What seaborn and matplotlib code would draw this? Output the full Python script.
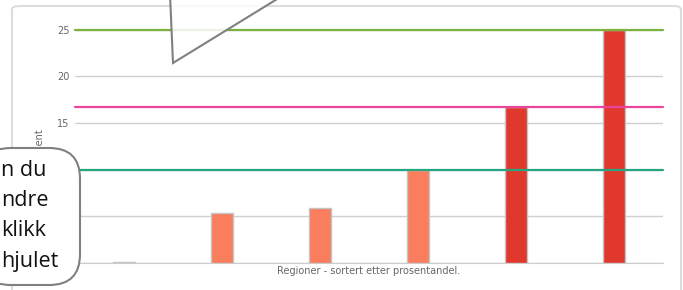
import matplotlib
matplotlib.use("Agg")
import matplotlib.pyplot as plt
import seaborn as sns
from matplotlib.patches import FancyBboxPatch, Polygon

# data
regioner = ["R1", "R2", "R3", "R4", "R5", "R6"]
prosent = [0.1, 5.35, 5.9, 10.0, 16.7, 25.0]
farger = ["#F47C5E", "#FA7E5E", "#FA7E5E", "#FA7E5E", "#E1382D", "#E1382D"]
ytikker = [0, 5, 10, 15, 20, 25]
ytikk_tekst = ["", "", "", "15", "20", "25"]
grenser = [25.0, 16.7, 10.0]
grense_farger = ["#7AB33E", "#E9469B", "#27A580"]
boble_tekst = ["n du", "ndre", "klikk", "hjulet"]

sns.set_style("white")
plt.rcParams["font.family"] = ["DejaVu Sans"]

fig = plt.figure(figsize=(6.83, 2.90), dpi=100)

# card behind the chart
kort = FancyBboxPatch((12 / 683, -0.2), 669 / 683, 1.2 - 6 / 290,
                      boxstyle="round,pad=0,rounding_size=0.012",
                      transform=fig.transFigure, facecolor="white",
                      edgecolor="#dcdcdc", linewidth=1.5, zorder=-5)
fig.patches.append(kort)

ax = fig.add_axes([75 / 683, 27 / 290, 588 / 683, 233.5 / 290])
ax.patch.set_alpha(0)

sns.barplot(x=regioner, y=prosent, hue=regioner, palette=farger, legend=False,
            width=0.23, saturation=1, edgecolor="#c4c4c4", linewidth=1,
            ax=ax, zorder=3)

for verdi, farge in zip(grenser, grense_farger):
    ax.axhline(verdi, color=farge, linewidth=1.6, zorder=4, clip_on=False)

ax.set_ylim(0, 25)
ax.set_yticks(ytikker)
ax.set_yticklabels(ytikk_tekst)
ax.yaxis.grid(True, color="#d0d0d0", linewidth=1)
ax.set_axisbelow(True)
ax.tick_params(axis="y", length=0, pad=4, labelsize=7, labelcolor="#666666")
ax.tick_params(axis="x", length=0, labelbottom=False)
for side in ["top", "right", "left"]:
    ax.spines[side].set_visible(False)
ax.spines["bottom"].set_color("#cccccc")
ax.set_xlabel("Regioner - sortert etter prosentandel.", fontsize=7,
              color="#666666", labelpad=2)
ax.set_ylabel("Prosent", fontsize=7, color="#666666", labelpad=9)

# speech bubble pointer at the top
peker = Polygon([(170 / 683, 1.02), (173 / 683, 1 - 63 / 290), (285 / 683, 1.02)],
                closed=False, transform=fig.transFigure, facecolor=(1, 1, 1, 0.85),
                edgecolor="#808080", linewidth=1.5, zorder=10)
fig.patches.append(peker)

# callout box on the left, only its right part is visible
boble = FancyBboxPatch((-20 / 683, 5 / 290), 100 / 683, 137 / 290,
                       boxstyle="round,pad=0,rounding_size=0.045",
                       transform=fig.transFigure, facecolor="white",
                       edgecolor="#808080", linewidth=1.5, zorder=10,
                       mutation_aspect=683 / 290)
fig.patches.append(boble)
for i, tekst in enumerate(boble_tekst):
    fig.text(1 / 683, 1 - (170 + i * 30.5) / 290, tekst, ha="left", va="center",
             fontsize=15.5, color="#111111", family=["Open Sans", "DejaVu Sans"],
             zorder=11)

fig.savefig("out.png", dpi=100)
